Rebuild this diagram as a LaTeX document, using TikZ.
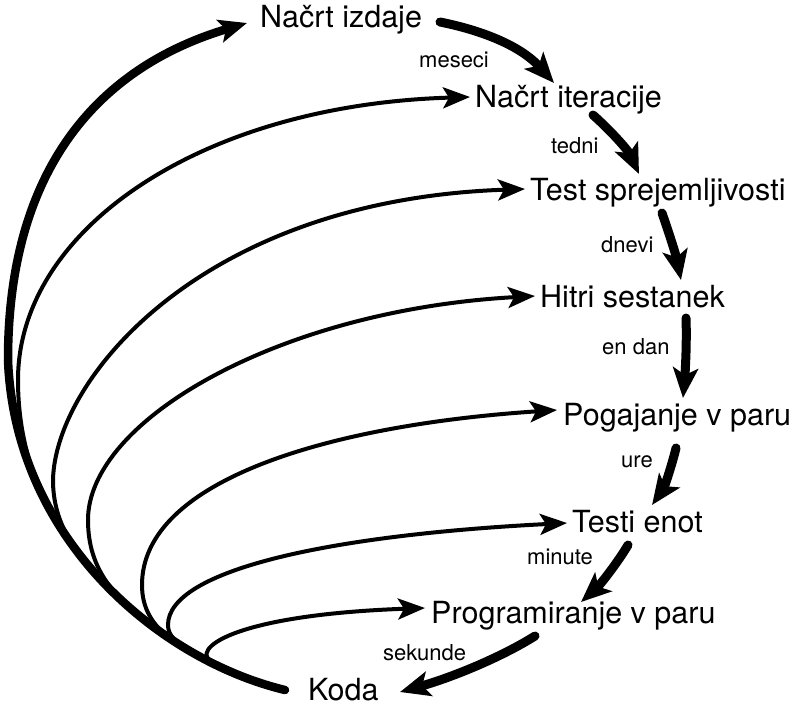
\documentclass[tikz,border=0pt]{standalone}
\usepackage{fontspec}
\setmainfont{TeX Gyre Heros}
\usetikzlibrary{arrows.meta}
\tikzset{
  big/.style={font=\fontsize{30.5}{36}\selectfont, inner sep=0pt, anchor=base west},
  small/.style={font=\fontsize{22}{26}\selectfont, inner sep=0pt, anchor=base west},
  thinarrow/.style={line width=4pt, -{Stealth[length=27pt,width=21pt,inset=6pt]}},
  outerarrow/.style={line width=8.5pt, line cap=round, -{Stealth[length=28pt,width=23pt,inset=6pt]}},
  downarrow/.style={line width=9pt, line cap=round, -{Stealth[length=30pt,width=25pt,inset=7pt]}},
}
\begin{document}
\begin{tikzpicture}[x=1pt,y=-1pt]
\useasboundingbox (0,0) rectangle (800,709);
\fill[white] (0,0) rectangle (800,709);

% labels
\node[big] (ni)  at (260,28)  {Načrt izdaje};
\node[big] (nit) at (475,107) {Načrt iteracije};
\node[big] (ts)  at (530,200) {Test sprejemljivosti};
\node[big] (hs)  at (540,307) {Hitri sestanek};
\node[big] (pp)  at (563,425) {Pogajanje v paru};
\node[big] (te)  at (572,532) {Testi enot};
\node[big] (prp) at (431,623) {Programiranje v paru};
\node[big] (ko)  at (308,700) {Koda};

\node[small] (l1) at (419,67)  {meseci};
\node[small] (l2) at (551,153) {tedni};
\node[small] (l3) at (601,252) {dnevi};
\node[small] (l4) at (602,354) {en dan};
\node[small] (l5) at (621,467) {ure};
\node[small] (l6) at (527,564) {minute};
\node[small] (l7) at (383,660) {sekunde};

% connector end points
\coordinate (k0) at (285,690);
\coordinate (m2) at (59,526);
\coordinate (m3) at (102,581);
\coordinate (m4) at (160,631);
\coordinate (m5) at (171,639);
\coordinate (m6) at (190,650);
\coordinate (m7) at (212,662);
\coordinate (t1) at (247,23);
\coordinate (t2) at (470,97);
\coordinate (t3) at (525,189);
\coordinate (t4) at (535,296);
\coordinate (t5) at (557,410);
\coordinate (t6) at (567,523);
\coordinate (t7) at (425,608);

% thin feedback curves
\draw[thinarrow] (m2) .. controls (30,480) and (18,430) .. (18,380)
   .. controls (18,230) and (200,105) .. (t2);
\draw[thinarrow] (m3) .. controls (72,550) and (53,520) .. (53,480)
   .. controls (55,380) and (200,200) .. (t3);
\draw[thinarrow] (m4) .. controls (115,600) and (88,570) .. (88,520)
   .. controls (88,420) and (280,310) .. (t4);
\draw[thinarrow] (m5) .. controls (152,625) and (142,608) .. (142,585)
   .. controls (142,480) and (330,425) .. (t5);
\draw[thinarrow] (m6) .. controls (175,642) and (168,635) .. (168,625)
   .. controls (168,570) and (330,535) .. (t6);
\draw[thinarrow] (m7) .. controls (190,650) and (230,615) .. (t7);

% outer thick curve
\draw[outerarrow] (k0) .. controls (160,660) and (15,540) .. (8,360)
   .. controls (8,120) and (150,52) .. (t1);

% downward arrows
\coordinate (d1s) at (440,22);  \coordinate (d1e) at (554,83);
\coordinate (d2s) at (593,115); \coordinate (d2e) at (639,174);
\coordinate (d3s) at (662,213); \coordinate (d3e) at (681,280);
\coordinate (d4s) at (686,318); \coordinate (d4e) at (683,398);
\coordinate (d5s) at (676,448); \coordinate (d5e) at (652,505);
\coordinate (d6s) at (628,545); \coordinate (d6e) at (581,602);
\coordinate (d7s) at (535,636); \coordinate (d7e) at (400,692);

\draw[downarrow] (d1s) .. controls (480,30) and (520,45) .. (d1e);
\draw[downarrow] (d2s) .. controls (610,130) and (628,150) .. (d2e);
\draw[downarrow] (d3s) .. controls (668,230) and (676,255) .. (d3e);
\draw[downarrow] (d4s) .. controls (687,345) and (685,375) .. (d4e);
\draw[downarrow] (d5s) .. controls (672,465) and (664,488) .. (d5e);
\draw[downarrow] (d6s) .. controls (618,562) and (600,585) .. (d6e);
\draw[downarrow] (d7s) .. controls (500,658) and (450,678) .. (d7e);
\end{tikzpicture}
\end{document}
